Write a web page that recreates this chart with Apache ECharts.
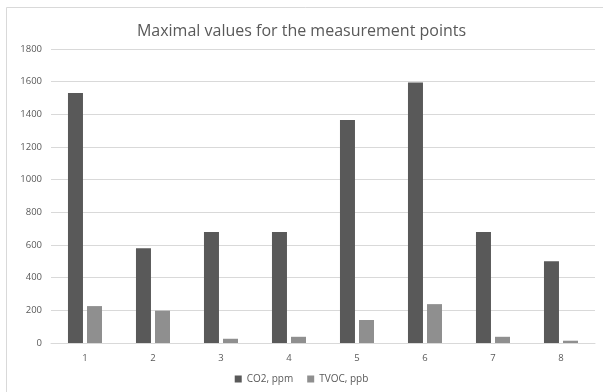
<!DOCTYPE html>
<html><head><meta charset="utf-8">
<script src="https://cdn.jsdelivr.net/npm/echarts@6/dist/echarts.min.js"></script>
<style>html,body{margin:0;padding:0;background:#fff}#c{width:603px;height:392px}</style>
</head><body><div id="c"></div>
<script>
const categories = ['1','2','3','4','5','6','7','8'];
const co2 = [1530, 580, 680, 680, 1365, 1595, 680, 500];
const tvoc = [226, 198, 26, 38, 141, 238, 38, 14];
const yTicks = {min: 0, max: 1800, interval: 200};

const chart = echarts.init(document.getElementById('c'), null, {renderer: 'canvas'});
const font = '"Open Sans", "Noto Sans", sans-serif';
chart.setOption({
  animation: false,
  backgroundColor: '#fff',
  graphic: [{type: 'rect', shape: {x: 6.5, y: 7.5, width: 620, height: 400}, style: {fill: 'none', stroke: '#d9d9d9', lineWidth: 1}, silent: true}],
  title: {text: 'Maximal values for the measurement points', left: 'center', top: 18,
    textStyle: {fontFamily: font, fontSize: 16, fontWeight: 'normal', color: '#595959'}},
  grid: {left: 51, right: 8, top: 49, bottom: 49, containLabel: false},
  legend: {bottom: 3, left: 'center', itemWidth: 7, itemHeight: 7, itemGap: 14, icon: 'rect',
    textStyle: {fontFamily: font, fontSize: 10, color: '#595959'}},
  xAxis: {type: 'category', data: categories,
    axisLine: {lineStyle: {color: '#d9d9d9'}}, axisTick: {show: false},
    axisLabel: {fontFamily: font, fontSize: 9.5, color: '#595959', margin: 10}},
  yAxis: {type: 'value', min: yTicks.min, max: yTicks.max, interval: yTicks.interval,
    axisLine: {show: false}, axisTick: {show: false},
    splitLine: {lineStyle: {color: '#d9d9d9'}},
    axisLabel: {fontFamily: font, fontSize: 9.5, color: '#595959', margin: 9, formatter: v => String(v)}},
  series: [
    {name: 'CO2, ppm', type: 'bar', data: co2, barWidth: 15, barGap: '27%',
     itemStyle: {color: '#595959'}},
    {name: 'TVOC, ppb', type: 'bar', data: tvoc, barWidth: 15,
     itemStyle: {color: '#8f8f8f'}}
  ]
});
</script></body></html>
